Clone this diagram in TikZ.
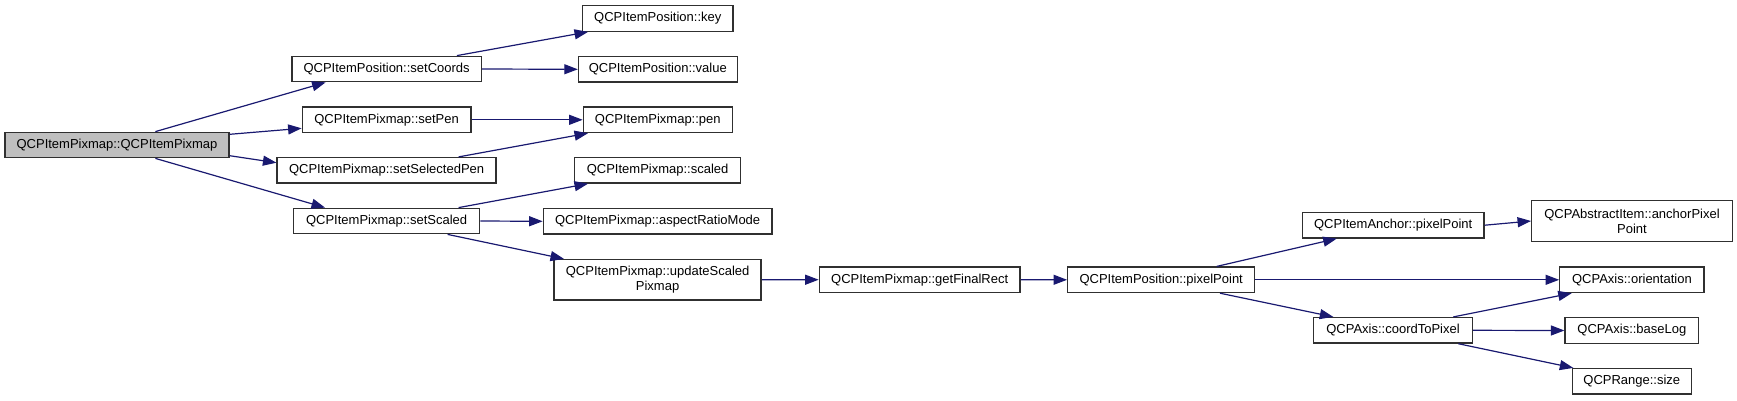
\documentclass[tikz,border=0pt]{standalone}
\usepackage{fontspec}
\setmainfont{Liberation Sans}
\usetikzlibrary{arrows.meta}
\definecolor{edgeblue}{HTML}{191970}
\definecolor{rootgray}{HTML}{BFBFBF}
\definecolor{boxline}{HTML}{303030}
\tikzset{
  fn/.style={draw=boxline, line width=1.3pt, rectangle, inner sep=0pt, align=center,
    minimum height=25.5pt, font=\fontsize{13}{15}\selectfont},
  fntwo/.style={fn, minimum height=40.5pt},
  rootbox/.style={fn, fill=rootgray},
  edge/.style={draw=edgeblue, line width=1.2pt, -{Triangle[length=13.5pt,width=10pt]}}
}
\begin{document}
\begin{tikzpicture}[x=1pt,y=-1pt]
\useasboundingbox (0,0) rectangle (1737,400);
% nodes
\node[rootbox, minimum width=224pt] (root) at (117,145) {QCPItemPixmap::QCPItemPixmap};
\node[fn, minimum width=189.4pt] (setCoords) at (386.6,69) {QCPItemPosition::setCoords};
\node[fn, minimum width=168.7pt] (setPen) at (386.6,119.8) {QCPItemPixmap::setPen};
\node[fn, minimum width=219pt] (setSelPen) at (386.6,170.3) {QCPItemPixmap::setSelectedPen};
\node[fn, minimum width=186.4pt] (setScaled) at (386.6,221) {QCPItemPixmap::setScaled};
\node[fn, minimum width=150.6pt] (key) at (657.8,18.5) {QCPItemPosition::key};
\node[fn, minimum width=158.7pt] (value) at (657.8,69.3) {QCPItemPosition::value};
\node[fn, minimum width=149pt] (pen) at (657.8,119.8) {QCPItemPixmap::pen};
\node[fn, minimum width=165.7pt] (scaled) at (657.6,170.3) {QCPItemPixmap::scaled};
\node[fn, minimum width=228.6pt] (aspect) at (657.6,221.3) {QCPItemPixmap::aspectRatioMode};
\node[fntwo, minimum width=207pt] (update) at (657.6,279.8) {QCPItemPixmap::updateScaled\\Pixmap};
\node[fn, minimum width=200.8pt] (finalRect) at (919.7,279.7) {QCPItemPixmap::getFinalRect};
\node[fn, minimum width=187pt] (posPixel) at (1161.2,279.8) {QCPItemPosition::pixelPoint};
\node[fn, minimum width=181.7pt] (anchorPixel) at (1393.2,225.2) {QCPItemAnchor::pixelPoint};
\node[fn, minimum width=158.6pt] (coordToPixel) at (1393,330.3) {QCPAxis::coordToPixel};
\node[fntwo, minimum width=200.6pt] (absAnchor) at (1632,221) {QCPAbstractItem::anchorPixel\\Point};
\node[fn, minimum width=144.3pt] (orientation) at (1631.9,279.8) {QCPAxis::orientation};
\node[fn, minimum width=133.7pt] (baseLog) at (1631.9,330.5) {QCPAxis::baseLog};
\node[fn, minimum width=119pt] (rsize) at (1631.8,381.3) {QCPRange::size};
% edges
\draw[edge] ([xshift=38.4pt]root.north) -- ([xshift=-61pt]setCoords.south);
\draw[edge] ([yshift=10.7pt]root.east) -- ([yshift=-8.5pt]setPen.west);
\draw[edge] ([yshift=-10.7pt]root.east) -- ([yshift=7.6pt]setSelPen.west);
\draw[edge] ([xshift=38.4pt]root.south) -- ([xshift=-61.6pt]setScaled.north);
\draw[edge] ([xshift=70.3pt]setCoords.north) -- ([xshift=-69.8pt]key.south);
\draw[edge] (setCoords.east) -- (value.west);
\draw[edge] (setPen.east) -- (pen.west);
\draw[edge] ([xshift=72pt]setSelPen.north) -- ([xshift=-69.8pt]pen.south);
\draw[edge] ([xshift=72pt]setScaled.north) -- ([xshift=-69.6pt]scaled.south);
\draw[edge] (setScaled.east) -- (aspect.west);
\draw[edge] ([xshift=61pt]setScaled.south) -- ([xshift=-93.6pt]update.north);
\draw[edge] (update.east) -- (finalRect.west);
\draw[edge] (finalRect.east) -- (posPixel.west);
\draw[edge] ([xshift=55.5pt]posPixel.north) -- ([xshift=-56.5pt]anchorPixel.south);
\draw[edge] (posPixel.east) -- (orientation.west);
\draw[edge] ([xshift=58.8pt]posPixel.south) -- ([xshift=-59.7pt]coordToPixel.north);
\draw[edge] (anchorPixel.east) -- (absAnchor.west);
\draw[edge] ([xshift=60.3pt]coordToPixel.north) -- ([xshift=-60.2pt]orientation.south);
\draw[edge] (coordToPixel.east) -- (baseLog.west);
\draw[edge] ([xshift=65.3pt]coordToPixel.south) -- ([xshift=-58.5pt]rsize.north);
\end{tikzpicture}
\end{document}
